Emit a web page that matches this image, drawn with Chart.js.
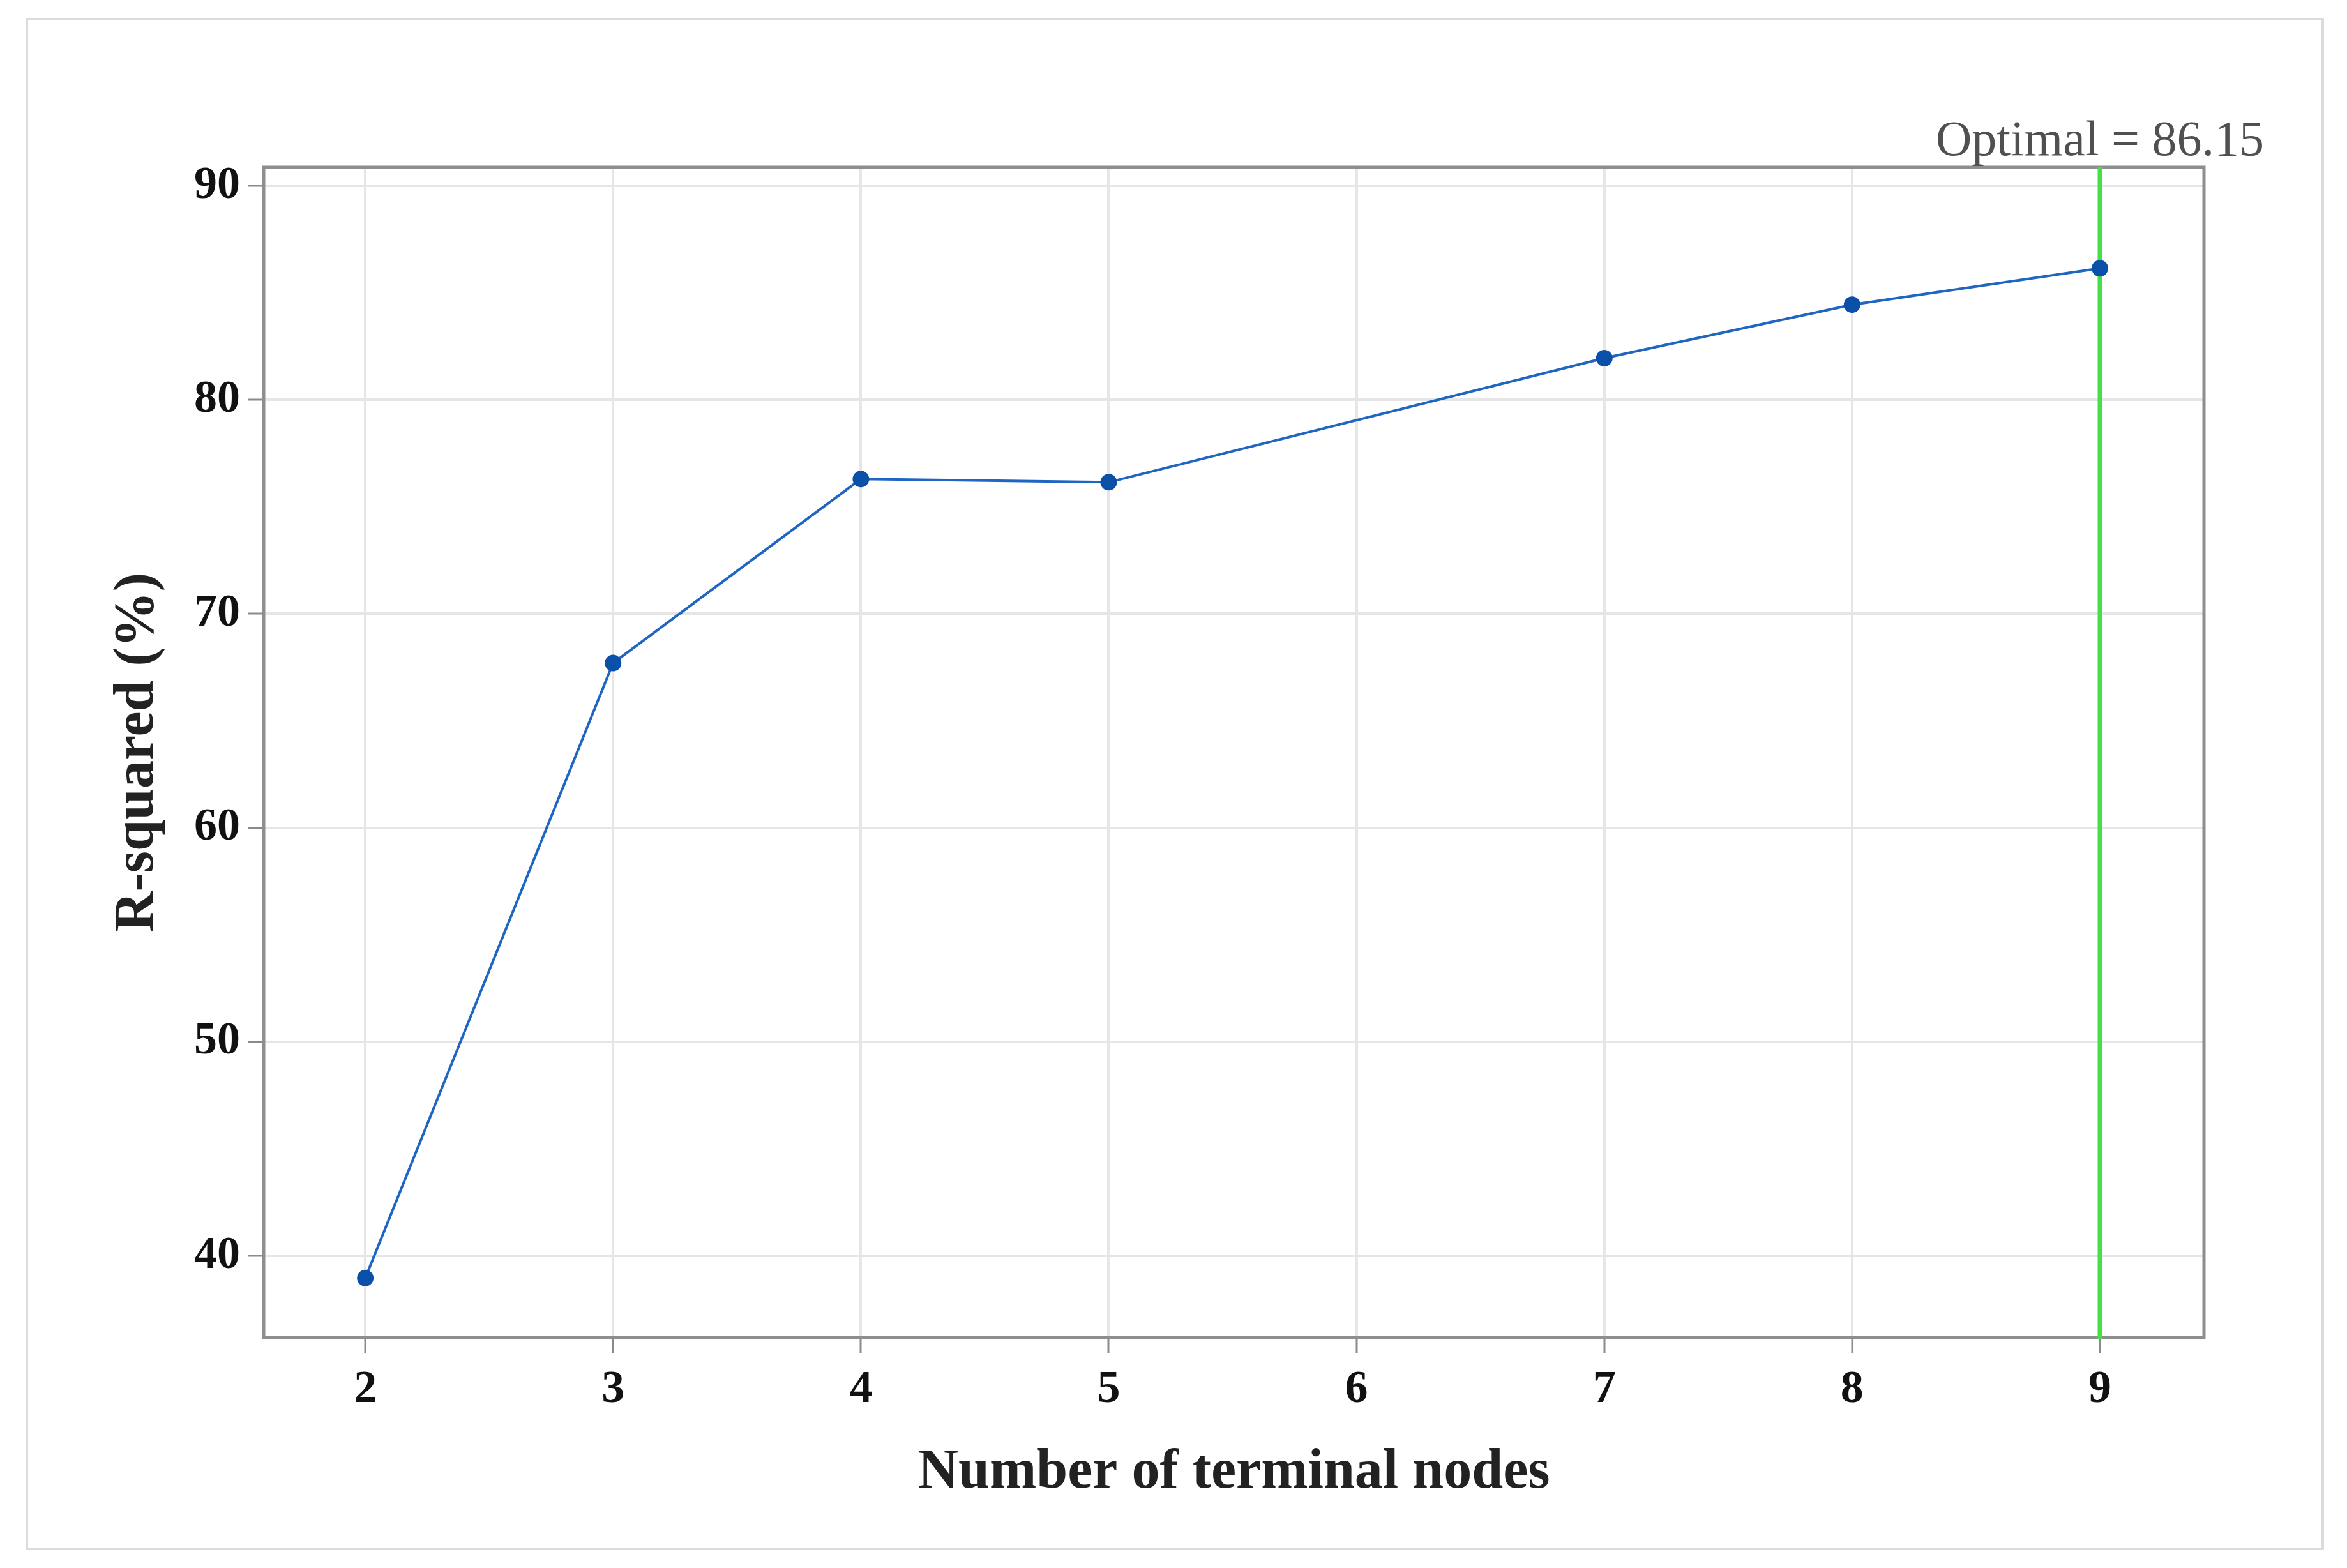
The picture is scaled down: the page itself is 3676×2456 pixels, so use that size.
<!DOCTYPE html>
<html>
<head>
    <title>R-squared vs terminal nodes</title>
    <script src="https://cdn.jsdelivr.net/npm/chart.js"></script>
    <style>
        body { margin: 0; background: #fff; }
        canvas { display: block; }
    </style>
</head>
<body>
    <canvas id="rsqChart" width="3676" height="2456"></canvas>

    <script>
        // values
        const nodes = [2, 3, 4, 5, 7, 8, 9];
        const rSquared = [38.96, 67.7, 76.3, 76.15, 81.95, 84.45, 86.15];
        const xTicks = [2, 3, 4, 5, 6, 7, 8, 9];
        const yTicks = [40, 50, 60, 70, 80, 90];
        const optimalNodes = 9;
        const optimalLabel = 'Optimal = 86.15';

        const points = nodes.map((n, i) => ({ x: n, y: rSquared[i] }));

        // white page, light outer frame
        const framePlugin = {
            id: 'frame',
            beforeDraw(chart) {
                const ctx = chart.ctx;
                ctx.save();
                ctx.fillStyle = '#ffffff';
                ctx.fillRect(0, 0, chart.width, chart.height);
                ctx.strokeStyle = '#dcdcdc';
                ctx.lineWidth = 4;
                ctx.strokeRect(42, 30, 3596, 2396);
                ctx.restore();
            }
        };

        // plot box, optimal line and its label
        const optimalPlugin = {
            id: 'optimal',
            beforeDatasetsDraw(chart) {
                const { ctx, chartArea: a, scales } = chart;
                ctx.save();
                ctx.strokeStyle = '#8e8e8e';
                ctx.lineWidth = 5;
                ctx.strokeRect(a.left, a.top, a.right - a.left, a.bottom - a.top);

                const x = scales.x.getPixelForValue(optimalNodes);
                ctx.strokeStyle = '#44e044';
                ctx.lineWidth = 7;
                ctx.beginPath();
                ctx.moveTo(x, a.top);
                ctx.lineTo(x, a.bottom + 2);
                ctx.stroke();

                ctx.fillStyle = '#505050';
                ctx.font = '78px "Liberation Serif"';
                ctx.textAlign = 'center';
                ctx.textBaseline = 'alphabetic';
                ctx.fillText(optimalLabel, x, a.top - 19);
                ctx.restore();
            }
        };

        const ctx = document.getElementById('rsqChart').getContext('2d');
        new Chart(ctx, {
            type: 'line',
            data: {
                datasets: [{
                    label: 'R-squared',
                    data: points,
                    borderColor: '#1f65c2',
                    borderWidth: 4,
                    pointRadius: 13,
                    pointBackgroundColor: '#0a50a8',
                    pointBorderWidth: 0,
                    tension: 0,
                    fill: false
                }]
            },
            options: {
                responsive: false,
                animation: false,
                devicePixelRatio: 1,
                layout: {
                    padding: { left: 42, top: 262, right: 224, bottom: 30 }
                },
                plugins: {
                    legend: { display: false },
                    tooltip: { enabled: false }
                },
                scales: {
                    x: {
                        type: 'linear',
                        min: 1.59,
                        max: 9.42,
                        afterBuildTicks: s => { s.ticks = xTicks.map(v => ({ value: v })); },
                        afterFit: s => { s.height = 331; s.paddingLeft = 0; s.paddingRight = 0; },
                        grid: {
                            color: '#e6e6e6',
                            lineWidth: 4,
                            tickColor: '#8a8a8a',
                            tickWidth: 3,
                            tickLength: 24
                        },
                        border: { display: false },
                        ticks: {
                            font: { family: 'Liberation Serif', size: 72, weight: 'bold' },
                            color: '#111',
                            padding: 15,
                            maxRotation: 0
                        },
                        title: {
                            display: true,
                            text: 'Number of terminal nodes',
                            font: { family: 'Liberation Serif', size: 88, weight: 'bold' },
                            color: '#222',
                            padding: { top: 0, bottom: 66 }
                        }
                    },
                    y: {
                        min: 36.18,
                        max: 90.87,
                        afterBuildTicks: s => { s.ticks = yTicks.map(v => ({ value: v })); },
                        afterFit: s => { s.width = 371; s.paddingTop = 0; s.paddingBottom = 0; },
                        grid: {
                            color: '#e6e6e6',
                            lineWidth: 4,
                            tickColor: '#8a8a8a',
                            tickWidth: 3,
                            tickLength: 24
                        },
                        border: { display: false },
                        ticks: {
                            font: { family: 'Liberation Serif', size: 72, weight: 'bold' },
                            color: '#111',
                            padding: 13
                        },
                        title: {
                            display: true,
                            text: 'R-squared (%)',
                            font: { family: 'Liberation Serif', size: 88, weight: 'bold' },
                            color: '#222',
                            padding: { top: 121, bottom: 0 }
                        }
                    }
                }
            },
            plugins: [framePlugin, optimalPlugin]
        });
    </script>
</body>
</html>
